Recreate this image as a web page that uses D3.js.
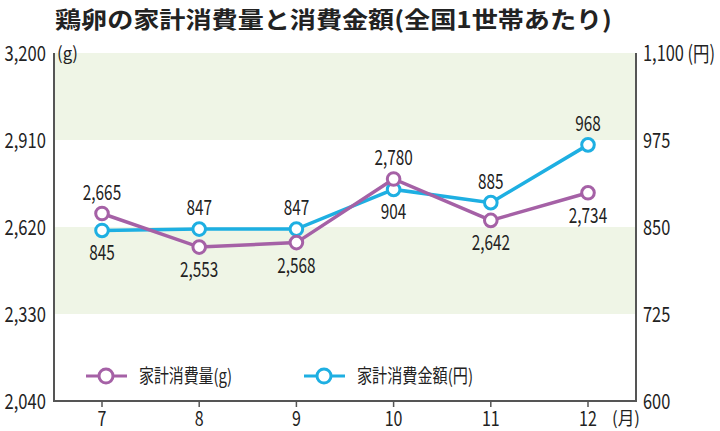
<!DOCTYPE html>
<html><head><meta charset="utf-8">
<script src="https://cdn.jsdelivr.net/npm/d3@7"></script>
<style>body{margin:0;background:#fff}svg{display:block}text{font-family:"Noto Sans CJK JP","Noto Sans",sans-serif;fill:#222}</style>
</head><body>
<svg id="c" width="720" height="431"></svg>
<script>
const months = ["7","8","9","10","11","12"];
const amountG = [2665, 2553, 2568, 2780, 2642, 2734];
const spendYen = [845, 847, 847, 904, 885, 968];
const leftTicks = [2040, 2330, 2620, 2910, 3200];
const rightTicks = [600, 725, 850, 975, 1100];
const amountLabelPos = ["above","below","below","above","below","below"];
const spendLabelPos = ["below","above","above","below","above","above"];
const title = "鶏卵の家計消費量と消費金額(全国1世帯あたり)";

const purple = "#a561a6", blue = "#1eafe2", axisCol = "#555", band = "#eff5e6";
const svg = d3.select("#c");
const L = 54, R = 636, T = 53, B = 401;
const x = d3.scalePoint().domain(months).range([102, 588]);
const yL = d3.scaleLinear().domain([2040, 3200]).range([B, T]);
const yR = d3.scaleLinear().domain([600, 1100]).range([B, T]);

function squeeze(sel, f) {
  sel.each(function(){ const w = this.getComputedTextLength(); this.setAttribute("textLength", w*f); this.setAttribute("lengthAdjust","spacingAndGlyphs"); });
}
function fit(sel, w) { sel.attr("textLength", w).attr("lengthAdjust", "spacingAndGlyphs"); }

// bands
[[2910,3200],[2330,2620]].forEach(([a,b]) => {
  svg.append("rect").attr("x", L).attr("width", R-L).attr("y", yL(b)).attr("height", yL(a)-yL(b)).attr("fill", band);
});

// title
svg.append("text").attr("x", 55).attr("y", 28).attr("font-size", 23).attr("font-weight", "bold").text(title).call(fit, 557);

// axes lines
svg.append("line").attr("x1", L).attr("x2", L).attr("y1", T).attr("y2", B).attr("stroke", axisCol).attr("stroke-width", 2);
svg.append("line").attr("x1", R).attr("x2", R).attr("y1", T).attr("y2", B).attr("stroke", axisCol).attr("stroke-width", 2);
svg.append("line").attr("x1", L-1).attr("x2", R+1).attr("y1", B).attr("y2", B).attr("stroke", axisCol).attr("stroke-width", 2);

// left ticks
svg.selectAll(".lt").data(leftTicks).enter().append("text").attr("class","lt")
  .attr("x", 46).attr("y", d => yL(d)+8).attr("text-anchor","end").attr("font-size", 21)
  .text(d => d3.format(",")(d)).call(squeeze, 0.79);
svg.append("text").attr("x", 57).attr("y", 60).attr("font-size", 18).text("(g)").call(fit, 21);

// right ticks (top tick carries the unit)
svg.selectAll(".rt").data(rightTicks).enter().append("text").attr("class","rt")
  .attr("transform", d => `translate(643,${yR(d)+8}) scale(0.78,1)`)
  .attr("font-size", 21)
  .text((d, i) => d3.format(",")(d) + (i === rightTicks.length - 1 ? " (円)" : ""));

// x ticks
svg.selectAll(".xt").data(months).enter().append("line")
  .attr("x1", d => x(d)).attr("x2", d => x(d)).attr("y1", B).attr("y2", B+6).attr("stroke", axisCol).attr("stroke-width", 1.5);
svg.selectAll(".xl").data(months).enter().append("text")
  .attr("x", d => x(d)).attr("y", 426).attr("text-anchor","middle").attr("font-size", 20).text(d => d).call(squeeze, 0.8);
svg.append("text").attr("x", 612).attr("y", 425).attr("font-size", 18).text("(月)").call(fit, 28);

function series(vals, y, color, pos) {
  const line = d3.line().x((d,i) => x(months[i])).y(d => y(d));
  svg.append("path").datum(vals).attr("d", line).attr("fill","none").attr("stroke", color).attr("stroke-width", 3.5);
  svg.selectAll(null).data(vals).enter().append("circle")
    .attr("cx", (d,i) => x(months[i])).attr("cy", d => y(d)).attr("r", 6.3)
    .attr("fill", "#fff").attr("stroke", color).attr("stroke-width", 3);
  svg.selectAll(null).data(vals).enter().append("text")
    .attr("x", (d,i) => x(months[i])).attr("y", (d,i) => pos[i] === "above" ? y(d) - 14 : y(d) + 30)
    .attr("text-anchor","middle").attr("font-size", 21).text(d => d3.format(",")(d)).call(squeeze, 0.73);
}
series(spendYen, yR, blue, spendLabelPos);
series(amountG, yL, purple, amountLabelPos);

// legend
function legend(lx, color, label, w) {
  svg.append("line").attr("x1", lx).attr("x2", lx+41).attr("y1", 376).attr("y2", 376).attr("stroke", color).attr("stroke-width", 3);
  svg.append("circle").attr("cx", lx+20).attr("cy", 376).attr("r", 7).attr("fill","#fff").attr("stroke", color).attr("stroke-width", 3);
  svg.append("text").attr("x", lx+53).attr("y", 383).attr("font-size", 19).text(label).call(fit, w);
}
legend(86, purple, "家計消費量(g)", 93);
legend(304, blue, "家計消費金額(円)", 116);
</script>
</body></html>
